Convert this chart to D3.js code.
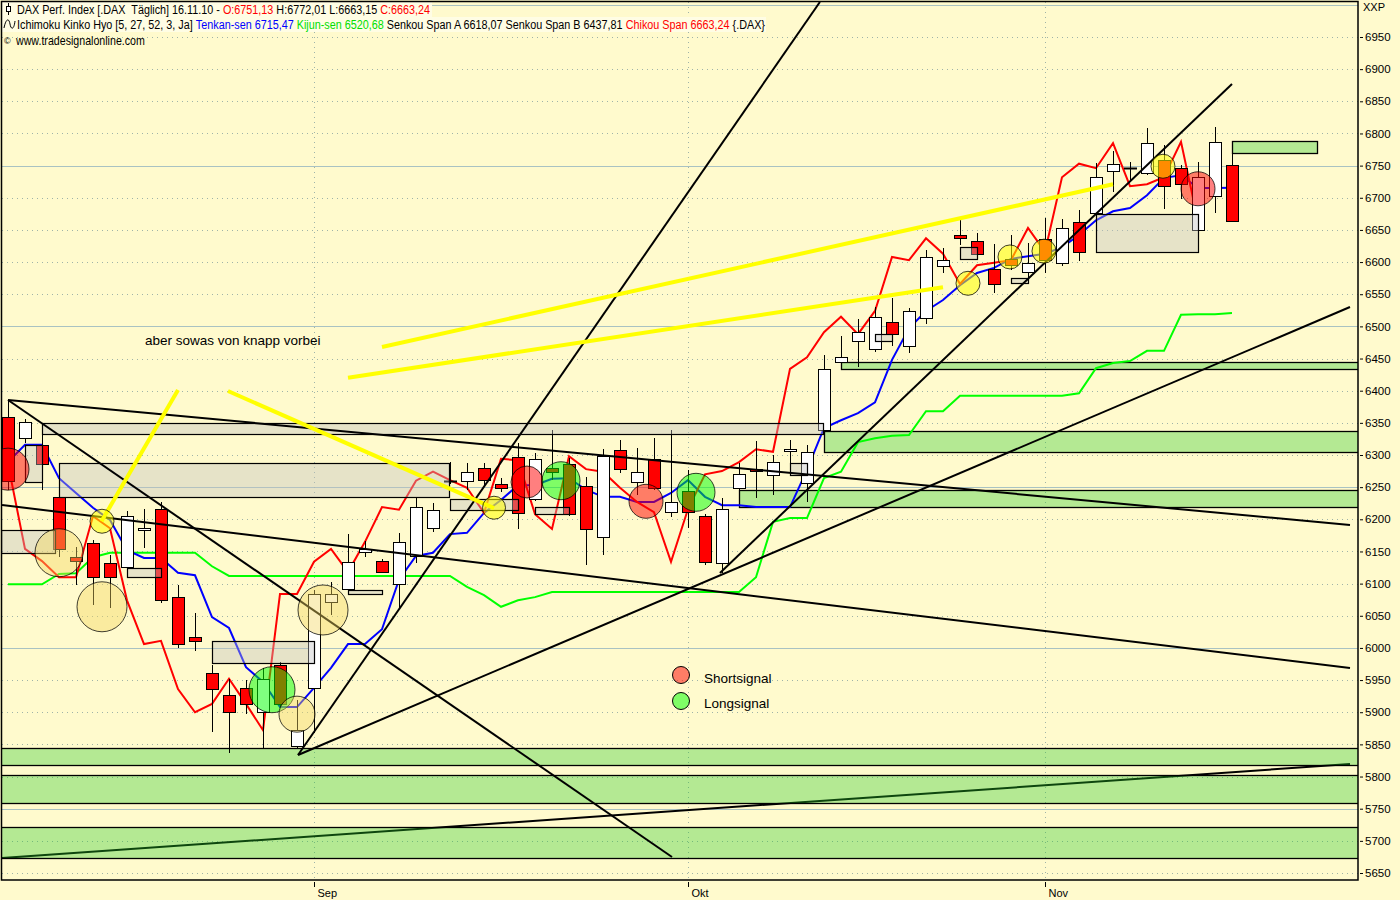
<!DOCTYPE html>
<html><head><meta charset="utf-8"><title>DAX Ichimoku</title>
<script src="https://cdn.jsdelivr.net/npm/d3@7/dist/d3.min.js"></script>
<style>
html,body{margin:0;padding:0;background:#fffacd;}
svg{display:block;font-family:"Liberation Sans",Arial,Helvetica,sans-serif;}
</style></head><body>
<svg id="chart" width="1400" height="900"></svg>
<script>
// ---------------- DATA ----------------
const dates = ["06.08","09.08","10.08","11.08","12.08","13.08","16.08","17.08","18.08","19.08","20.08","23.08","24.08","25.08","26.08","27.08","30.08","31.08",
"01.09","02.09","03.09","06.09","07.09","08.09","09.09","10.09","13.09","14.09","15.09","16.09","17.09","20.09","21.09","22.09","23.09","24.09","27.09","28.09","29.09","30.09",
"01.10","04.10","05.10","06.10","07.10","08.10","11.10","12.10","13.10","14.10","15.10","18.10","19.10","20.10","21.10","22.10","25.10","26.10","27.10","28.10","29.10",
"01.11","02.11","03.11","04.11","05.11","08.11","09.11","10.11","11.11","12.11","15.11","16.11"];

const open  = [6359,6326,6316,6235,6141,6163,6132,6126,6183,6216, 6079,6017,5961,5927,5938,5900,5973,5847,5938,6071,
               6092,6149,6135,6099,6143,6186,6258,6260,6280,6255, 6297,6232,6280,6286,6252,6172,6308,6258,6294,6211,
               6244,6205,6132,6249,6278,6269,6306,6256,6339,6445, 6477,6465,6507,6470,6513,6594,6642,6633,6589,6605,
               6585,6636,6599,6662,6676,6742,6745,6739,6759,6746, 6650,6703,6751.13];
const high  = [6385,6356,6350,6238,6157,6168,6145,6213,6216,6227, 6098,6054,5973,5952,5950,5969,5978,5919,6090,6102,
               6177,6166,6138,6179,6233,6225,6289,6288,6288,6264, 6319,6303,6339,6295,6266,6309,6323,6311,6327,6339,
               6277,6208,6233,6288,6322,6300,6324,6316,6455,6485, 6511,6530,6544,6529,6619,6622,6665,6645,6628,6642,
               6630,6669,6667,6681,6754,6773,6756,6808,6782,6751, 6756,6810,6772.01];
const low   = [6246,6319,6246,6141,6098,6067,6062,6118,6155,6070, 6000,5995,5869,5837,5897,5844,5907,5844,5868,6051,
               6087,6141,6117,6062,6132,6180,6255,6246,6250,6242, 6185,6228,6261,6205,6129,6145,6272,6238,6246,6204,
               6186,6129,6117,6242,6233,6238,6269,6227,6334,6440, 6437,6460,6470,6459,6504,6583,6627,6606,6552,6588,
               6567,6583,6594,6602,6675,6709,6725,6735,6683,6698, 6647,6676,6663.15];
const close = [6260,6351,6286,6154,6135,6110,6110,6205,6186,6074, 6006,6011,5936,5900,5913,5952,5913,5872,6084,6084,
               6134,6154,6118,6165,6219,6215,6260,6274,6261,6249, 6210,6294,6274,6208,6185,6298,6278,6274,6249,6227,
               6211,6134,6216,6270,6275,6289,6309,6305,6434,6452, 6491,6515,6488,6524,6608,6603,6637,6613,6566,6595,
               6599,6603,6653,6616,6732,6753,6746,6785,6718,6721, 6732,6787,6663.24];

const tenkan = [6289,6316,6316,6264,6241,6218,6199,6152,6140,6140, 6117,6113,6048,6031,5970,5947,5908,5908,5938,5969,
                6006,6006,6029,6106,6143,6148,6177,6179,6210,6230, 6253,6253,6263,6264,6246,6235,6235,6227,6227,6241,
                6261,6235,6222,6222,6219,6219,6219,6277,6342,6354, 6365,6382,6448,6497,6524,6541,6564,6583,6591,6605,
                6609,6613,6623,6642,6665,6679,6684,6704,6731,6735, 6715,6715,6715.47];
const kijun  = [6099,6099,6099,6115,6116,6141,6148,6148,6148,6148, 6148,6148,6127,6112,6112,6112,6112,6112,6112,6112,
                6112,6112,6112,6112,6112,6112,6112,6095,6082,6064, 6074,6079,6087,6087,6087,6087,6087,6087,6087,6087,
                6087,6087,6087,6087,6110,6196,6202,6202,6264,6274, 6320,6326,6330,6331,6368,6368,6392,6392,6392,6392,
                6392,6392,6392,6396,6435,6443,6446,6462,6462,6518, 6519,6519,6520.68];
const chikou = [6286,6154,6135,6110,6110,6205,6186,6074,6006,6011, 5936,5900,5913,5952,5913,5872,6084,6084,6134,6154,
                6118,6165,6219,6215,6260,6274,6261,6249,6210,6294, 6292,6208,6185,6298,6278,6274,6249,6227,6211,6134,
                6216,6270,6275,6289,6309,6305,6434,6452,6491,6515, 6488,6524,6608,6603,6637,6613,6566,6595,6599,6603,
                6653,6616,6732,6753,6746,6785,6718,6721,6732,6787, 6663.24];
const senkouA = 6618.07, senkouB = 6437.81;

const yTickValues = [6950,6900,6850,6800,6750,6700,6650,6600,6550,6500,6450,6400,6350,6300,6250,6200,6150,6100,6050,6000,5950,5900,5850,5800,5750,5700,5650];
const gridValues = [7000].concat(yTickValues);
const monthIdx = [18,40,61];
const monthLabels = ["Sep","Okt","Nov"];

// drawn objects, in (bar index, price) units
const greyBoxes  = [[2,47.94,6350,6333],[3,25.94,6288,6235],[1,2,6316,6258],[-0.4,2.76,6183,6148],[7,9,6124,6110],
                    [12,18,6011,5977],[20,22,6090,6084],[26,30,6232,6214],[31,33,6219,6208],[46,47,6288,6269],
                    [51,52,6488,6477],[56,57,6623,6605],[59,60,6575,6567],[64,70,6675,6616]];
const greenBoxes = [[49,80,6445,6434],[48,80,6337,6305],[43,80,6246,6219],[72,77,6788,6770],
                    [-1,80,5844,5818],[-1,80,5802,5759],[-1,80,5721.5,5673.3]];
const blackLines = [[[0,6385.5],[78.94,6191.1]],[[0,6385.5],[39.06,5674.9]],[[-0.35,6222.2],[78.94,5968.8]],
                    [[17.06,5833.5],[47.76,7004.4]],[[17.06,5833.5],[78.94,6530.1]],[[41.88,6116.5],[72,6876.9]]];
const baseLine   = [[-0.35,5673.3],[78.94,5819.5]];
const yellowLines= [[[5.5,6197],[10,6401]],[[12.94,6399.5],[28.59,6217.5]],[[22,6468],[65,6721]],[[20,6420],[55,6561]]];

const sigIdx   = [0,3,5.53,5.53,15.53,17,18.53,28.59,30.53,32.53,37.53,40.47,56.47,58.94,60.94,67.94,70];
const sigPrice = [6278,6148,6197,6064,5935,5897,6059,6218,6258,6260,6228,6242,6567,6608,6617,6749,6714];
const sigType  = ["short","pale","yellow","pale","long","pale","pale","yellow","short","long","short","long","yellow","yellow","yellow","yellow","short"];
const sigRadius= [21,24,12,25,23,18,25,11.5,16,19,17,19,12,12,12,12,17];

// ---------------- DRAWING ----------------
const svg = d3.select('#chart');
const P = {l:2,t:2,r:1358,b:880};
const x = d3.scaleLinear().domain([0,72]).range([8,1232]);
const y = d3.scaleLinear().domain([5650,6950]).range([873,37]);
const BG = '#fffacd';

svg.append('rect').attr('width',1400).attr('height',900).attr('fill',BG);
svg.append('defs').append('clipPath').attr('id','clip').append('rect')
  .attr('x',P.l).attr('y',P.t).attr('width',P.r-P.l).attr('height',P.b-P.t);
const g = svg.append('g').attr('clip-path','url(#clip)');

// grid
g.append('g').selectAll('line').data(gridValues).join('line')
  .attr('x1',P.l).attr('x2',P.r)
  .attr('y1',d=>Math.round(y(d))+0.5).attr('y2',d=>Math.round(y(d))+0.5)
  .attr('stroke',d=>d%250===0?'#a9c2c2':'#9fb3a8')
  .attr('stroke-width',1)
  .attr('stroke-dasharray',d=>d%250===0?null:'1,4');
g.append('g').selectAll('line').data(monthIdx).join('line')
  .attr('x1',d=>Math.round(x(d))+0.5).attr('x2',d=>Math.round(x(d))+0.5)
  .attr('y1',P.t).attr('y2',P.b)
  .attr('stroke','#9fb3a8').attr('stroke-dasharray','1,4');

// light backgrounds behind the first two header lines
g.append('rect').attr('x',2).attr('y',2).attr('width',430).attr('height',15).attr('fill','#fffde4');
g.append('rect').attr('x',2).attr('y',17).attr('width',764).attr('height',15).attr('fill','#fffde4');

const seg = d3.line().x(d=>x(d[0])).y(d=>y(d[1]));

// bottom trend line (lies beneath the green zones)
g.append('path').attr('d',seg(baseLine)).attr('stroke','#000').attr('stroke-width',2).attr('fill','none');

// green zones
g.append('g').selectAll('rect').data(greenBoxes).join('rect')
  .attr('x',d=>Math.round(x(d[0]))+0.5).attr('y',d=>Math.round(y(d[2]))+0.5)
  .attr('width',d=>Math.round(x(d[1]))-Math.round(x(d[0])))
  .attr('height',d=>Math.round(y(d[3]))-Math.round(y(d[2])))
  .attr('fill','rgb(40,200,40)').attr('fill-opacity',0.35)
  .attr('stroke','#000').attr('stroke-width',1.3);

// ichimoku lines
const ln = d3.line().x((d,i)=>x(i)).y(d=>y(d));
g.append('path').attr('d',ln(kijun)).attr('fill','none').attr('stroke','#00ff00').attr('stroke-width',2);
g.append('path').attr('d',ln(tenkan)).attr('fill','none').attr('stroke','#0000ff').attr('stroke-width',2);
g.append('path').attr('d',ln(chikou)).attr('fill','none').attr('stroke','#ff0000').attr('stroke-width',2);

// candles
const idx = d3.range(close.length);
const cg = g.append('g');
cg.selectAll('line.w').data(idx).join('line').attr('class','w')
  .attr('x1',i=>Math.round(x(i))+0.5).attr('x2',i=>Math.round(x(i))+0.5)
  .attr('y1',i=>Math.round(y(high[i]))).attr('y2',i=>Math.round(y(low[i])))
  .attr('stroke','#000').attr('stroke-width',1);
idx.forEach(i=>{
  const cx = Math.round(x(i));
  const yo = y(open[i]), yc = y(close[i]);
  const top = Math.round(Math.min(yo,yc)), bot = Math.round(Math.max(yo,yc));
  if (bot-top < 2) {
    cg.append('line').attr('x1',cx-6).attr('x2',cx+7).attr('y1',top+0.5).attr('y2',top+0.5)
      .attr('stroke','#000').attr('stroke-width',2);
  } else {
    cg.append('rect').attr('x',cx-5.5).attr('y',top+0.5).attr('width',12).attr('height',bot-top)
      .attr('fill',close[i]<open[i]?'#ff0000':'#ffffff').attr('stroke','#000').attr('stroke-width',1);
  }
});

// grey zones (translucent, above candles)
g.append('g').selectAll('rect').data(greyBoxes).join('rect')
  .attr('x',d=>Math.round(x(d[0]))+0.5).attr('y',d=>Math.round(y(d[2]))+0.5)
  .attr('width',d=>Math.round(x(d[1]))-Math.round(x(d[0])))
  .attr('height',d=>Math.round(y(d[3]))-Math.round(y(d[2])))
  .attr('fill','rgb(192,192,192)').attr('fill-opacity',0.4)
  .attr('stroke','#000').attr('stroke-width',1.2);

// black trend lines
g.append('g').selectAll('path').data(blackLines).join('path')
  .attr('d',seg).attr('fill','none').attr('stroke','#000').attr('stroke-width',2);

// yellow lines
g.append('g').selectAll('path').data(yellowLines).join('path')
  .attr('d',seg).attr('fill','none').attr('stroke','#ffff00').attr('stroke-width',4).attr('stroke-linecap','butt');

// signals
const sigFill = {short:'rgb(255,0,0)', long:'rgb(0,255,0)', yellow:'rgb(255,255,0)', pale:'rgb(242,215,95)'};
const sigOp   = {short:0.5, long:0.5, yellow:0.55, pale:0.42};
g.append('g').selectAll('circle').data(d3.range(sigIdx.length)).join('circle')
  .attr('cx',k=>x(sigIdx[k])).attr('cy',k=>y(sigPrice[k])).attr('r',k=>sigRadius[k])
  .attr('fill',k=>sigFill[sigType[k]]).attr('fill-opacity',k=>sigOp[sigType[k]])
  .attr('stroke','#000').attr('stroke-opacity',0.75).attr('stroke-width',1);

// annotation & legend
svg.append('text').attr('x',145).attr('y',345).attr('font-size',13.5).attr('fill','#000').text('aber sowas von knapp vorbei');
const legend = [["Shortsignal","short",675,683],["Longsignal","long",701,708]];
legend.forEach(d=>{
  svg.append('circle').attr('cx',681).attr('cy',d[2]).attr('r',8.5)
    .attr('fill',sigFill[d[1]]).attr('fill-opacity',0.5).attr('stroke','#000').attr('stroke-width',1);
  svg.append('text').attr('x',704).attr('y',d[3]).attr('font-size',13.5).attr('fill','#000').text(d[0]);
});

// frame
svg.append('rect').attr('x',1.5).attr('y',1.5).attr('width',P.r-1.5).attr('height',P.b-1.5)
  .attr('fill','none').attr('stroke','#000').attr('stroke-width',1.5);

// y axis (right)
const yAxis = d3.axisRight(y).tickValues(yTickValues).tickSize(3).tickPadding(2).tickFormat(d3.format('d'));
const ya = svg.append('g').attr('transform',`translate(${P.r+2},0)`).call(yAxis);
ya.select('.domain').remove();
ya.selectAll('text').attr('font-size',11.5).attr('font-family','"Liberation Sans",Arial,sans-serif').attr('fill','#000');
ya.selectAll('line').attr('stroke','#000');
svg.append('text').attr('x',1363).attr('y',11).attr('font-size',11).text('XXP');

// x axis (months)
const xa = svg.append('g');
monthIdx.forEach((m,k)=>{
  const px = Math.round(x(m))+0.5;
  xa.append('line').attr('x1',px).attr('x2',px).attr('y1',P.b+2).attr('y2',P.b+7).attr('stroke','#000');
  xa.append('text').attr('x',px+3).attr('y',897).attr('font-size',11).text(monthLabels[k]);
});

// header: each coloured part is its own text, laid out side by side, then the line is
// squeezed horizontally to the reference width
const de = v => d3.format('.2f')(v).replace('.',',');
const L = close.length-1;
const header = [
  {y:13.5, x:17, w:413, parts:[
    ["DAX Perf. Index [.DAX  Täglich] "+dates[L]+".10 - ","#000"],["O:"+de(open[L]),"#ff0000"],
    [" H:"+de(high[L])+" L:"+de(low[L])+" ","#000"],["C:"+de(close[L]),"#ff0000"]]},
  {y:28.5, x:17, w:748, parts:[
    ["Ichimoku Kinko Hyo [5, 27, 52, 3, Ja] ","#000"],["Tenkan-sen "+de(tenkan[L]),"#0000ff"],[" ","#000"],
    ["Kijun-sen "+de(kijun[L]),"#00e000"],[" Senkou Span A "+de(senkouA)+" Senkou Span B "+de(senkouB)+" ","#000"],
    ["Chikou Span "+de(chikou[chikou.length-1]),"#ff0000"],[" {.DAX}","#000"]]},
  {y:45, x:16, w:129, parts:[["www.tradesignalonline.com","#000"]]}
];
header.forEach(h=>{
  const hg = svg.append('g');
  let cx = 0;
  h.parts.forEach(p=>{
    const t = hg.append('text').attr('x',cx).attr('y',0).attr('font-size',12)
      .style('white-space','pre').attr('fill',p[1]).text(p[0]);
    cx += t.node().getComputedTextLength();
  });
  const s = h.w / cx;
  hg.attr('transform',`translate(${h.x},${h.y}) scale(${s},1)`);
});
// header icons
svg.append('line').attr('x1',8.5).attr('x2',8.5).attr('y1',3).attr('y2',15).attr('stroke','#000');
svg.append('rect').attr('x',6.5).attr('y',6.5).attr('width',4).attr('height',5).attr('fill','#fff').attr('stroke','#000');
svg.append('path').attr('d','M4,28 C6,18 9,18 10,24 C11,30 14,30 15,21').attr('fill','none').attr('stroke','#000').attr('stroke-width',1);
svg.append('text').attr('x',4).attr('y',44).attr('font-size',9).text('©');
</script>
</body></html>
